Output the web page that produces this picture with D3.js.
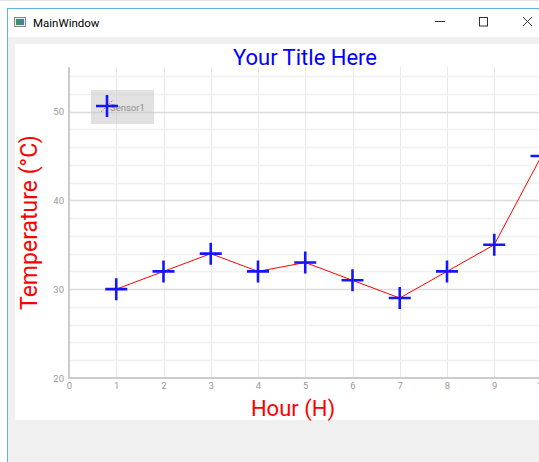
<!DOCTYPE html>
<html>
<head>
<meta charset="utf-8">
<script src="https://cdn.jsdelivr.net/npm/d3@7"></script>
<style>
  html, body { margin: 0; padding: 0; background: #ffffff; }
  svg { display: block; }
</style>
</head>
<body>
<script>
// ---- data ----
const hours = [1, 2, 3, 4, 5, 6, 7, 8, 9, 10];
const temps = [30, 32, 34, 32, 33, 31, 29, 32, 35, 45];
const xTickValues = [0, 1, 2, 3, 4, 5, 6, 7, 8, 9, 10];
const yMajorTicks = [20, 30, 40, 50];
const yMinorTicks = [22, 24, 26, 28, 32, 34, 36, 38, 42, 44, 46, 48, 52, 54];
const xDomain = [0, 10];
const yDomain = [20, 55];
const seriesName = "Sensor1";
const titleText = "Your Title Here";
const xLabelText = "Hour (H)";
const yLabelText = "Temperature (°C)";
const windowTitle = "MainWindow";

const W = 539, H = 462;
const svg = d3.select("body").append("svg").attr("width", W).attr("height", H);

// ---- window chrome ----
svg.append("rect").attr("x", 0).attr("y", 0).attr("width", W).attr("height", H).attr("fill", "#ffffff");
svg.append("rect").attr("x", 0).attr("y", 0).attr("width", W).attr("height", 1).attr("fill", "#e3e3e3");
svg.append("rect").attr("x", 8).attr("y", 37).attr("width", W - 8).attr("height", H - 37).attr("fill", "#f0f0f0");
svg.append("line").attr("x1", 7.5).attr("x2", 7.5).attr("y1", 8).attr("y2", H).attr("stroke", "#5db3ea").attr("stroke-width", 1);
svg.append("line").attr("x1", 7).attr("x2", W).attr("y1", 8.5).attr("y2", 8.5).attr("stroke", "#5db3ea").attr("stroke-width", 1);
// icon
svg.append("rect").attr("x", 14.5).attr("y", 17.5).attr("width", 11).attr("height", 9).attr("fill", "#e8e8e8").attr("stroke", "#8a8a8a");
svg.append("rect").attr("x", 16).attr("y", 19).attr("width", 5).attr("height", 6).attr("fill", "#3f8f6a");
svg.append("rect").attr("x", 21).attr("y", 19).attr("width", 3).attr("height", 6).attr("fill", "#4a78b8");
svg.append("text").attr("x", 33).attr("y", 27).attr("font-family", "Roboto, 'Open Sans', sans-serif")
  .attr("font-size", "11.5px").attr("fill", "#000").text(windowTitle);
// buttons
svg.append("line").attr("x1", 435).attr("x2", 445).attr("y1", 21.5).attr("y2", 21.5).attr("stroke", "#333").attr("stroke-width", 1);
svg.append("rect").attr("x", 479.5).attr("y", 17.5).attr("width", 8).attr("height", 8.5).attr("fill", "none").attr("stroke", "#333").attr("stroke-width", 1);
svg.append("path").attr("d", "M523,17 L532,26 M532,17 L523,26").attr("stroke", "#333").attr("stroke-width", 1);

// plot widget background
svg.append("rect").attr("x", 15).attr("y", 44).attr("width", W - 15).attr("height", 376).attr("fill", "#ffffff");

// ---- scales ----
const x = d3.scaleLinear().domain(xDomain).range([69, 541.5]);
const y = d3.scaleLinear().domain(yDomain).range([378, 67.1]);

const plotTop = y(yDomain[1]), plotBottom = y(yDomain[0]);
const plotLeft = x(xDomain[0]), plotRight = x(xDomain[1]) + 10;

// ---- grid ----
const grid = svg.append("g");
grid.selectAll(".vg").data(xTickValues.filter(d => d > 0)).join("line")
  .attr("x1", d => Math.round(x(d)) + 0.5).attr("x2", d => Math.round(x(d)) + 0.5)
  .attr("y1", plotTop).attr("y2", plotBottom)
  .attr("stroke", "#e8e8e8").attr("stroke-width", 1);
grid.selectAll(".hm").data(yMinorTicks).join("line")
  .attr("x1", plotLeft).attr("x2", plotRight)
  .attr("y1", d => Math.round(y(d)) + 0.5).attr("y2", d => Math.round(y(d)) + 0.5)
  .attr("stroke", "#f0f0f0").attr("stroke-width", 1.5);
grid.selectAll(".hM").data(yMajorTicks.filter(d => d > yDomain[0])).join("line")
  .attr("x1", plotLeft).attr("x2", plotRight)
  .attr("y1", d => Math.round(y(d)) + 0.5).attr("y2", d => Math.round(y(d)) + 0.5)
  .attr("stroke", "#dcdcdc").attr("stroke-width", 1.5);

// ---- axes ----
const axisFont = "Roboto, 'Open Sans', sans-serif";
const yAxis = svg.append("g").attr("transform", `translate(${plotLeft},0)`)
  .call(d3.axisLeft(y).tickValues(yMajorTicks).tickSize(0).tickPadding(5).tickFormat(d3.format("d")));
const xAxis = svg.append("g").attr("transform", `translate(0,${plotBottom})`)
  .call(d3.axisBottom(x).tickValues(xTickValues).tickSize(0).tickPadding(4).tickFormat(d3.format("d")));
[yAxis, xAxis].forEach(g => {
  g.select(".domain").remove();
  g.selectAll("text").attr("fill", "#9a9a9a").attr("font-family", axisFont).attr("font-size", "9.5px");
});
svg.append("line").attr("x1", plotLeft).attr("x2", plotLeft).attr("y1", plotTop).attr("y2", plotBottom + 1)
  .attr("stroke", "#cccccc").attr("stroke-width", 2);
svg.append("line").attr("x1", plotLeft).attr("x2", W).attr("y1", plotBottom).attr("y2", plotBottom)
  .attr("stroke", "#cccccc").attr("stroke-width", 2);

// ---- series ----
const pts = hours.map((h, i) => ({ h, t: temps[i] }));
svg.append("path").datum(pts)
  .attr("d", d3.line().x(d => x(d.h)).y(d => y(d.t)))
  .attr("fill", "none").attr("stroke", "#ff0000").attr("stroke-width", 1);
const half = 11;
svg.selectAll(".mk").data(pts).join("path")
  .attr("d", d => `M${x(d.h) - half},${y(d.t)} H${x(d.h) + half} M${x(d.h)},${y(d.t) - half} V${y(d.t) + half}`)
  .attr("stroke", "#1515ff").attr("stroke-width", 2.6).attr("fill", "none");

// ---- legend ----
const lg = svg.append("g");
lg.append("rect").attr("x", 91).attr("y", 90).attr("width", 63).attr("height", 34).attr("fill", "rgba(200,200,200,0.55)");
lg.append("line").attr("x1", 101).attr("y1", 112).attr("x2", 113).attr("y2", 100)
  .attr("stroke", "#ff6060").attr("stroke-width", 1).attr("stroke-dasharray", "2,1.5");
lg.append("text").attr("x", 110).attr("y", 111).attr("font-family", axisFont).attr("font-size", "9.5px")
  .attr("fill", "#8f8f8f").text(seriesName);
lg.append("path").attr("d", `M${107 - half},106 H${107 + half} M107,${106 - half} V${106 + half}`)
  .attr("stroke", "#1515ff").attr("stroke-width", 2.6);

// ---- titles ----
svg.append("text").attr("x", 305).attr("y", 65).attr("text-anchor", "middle")
  .attr("font-family", "Roboto, 'Open Sans', sans-serif").attr("font-size", "22px").attr("fill", "#0000ff").text(titleText);
svg.append("text").attr("x", 293).attr("y", 416).attr("text-anchor", "middle")
  .attr("font-family", "Roboto, 'Open Sans', sans-serif").attr("font-size", "22px").attr("fill", "#ff0000").text(xLabelText);
svg.append("text").attr("transform", `translate(37,${(plotTop + plotBottom) / 2}) rotate(-90)`).attr("text-anchor", "middle")
  .attr("font-family", "Roboto, 'Open Sans', sans-serif").attr("font-size", "23px").attr("fill", "#ff0000").text(yLabelText);
</script>
</body>
</html>
